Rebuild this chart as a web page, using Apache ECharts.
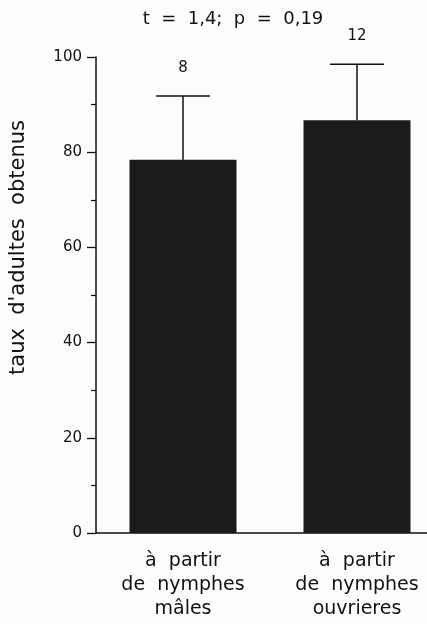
<!DOCTYPE html>
<html><head><meta charset="utf-8">
<script src="https://cdn.jsdelivr.net/npm/echarts@6/dist/echarts.min.js"></script>
<style>html,body{margin:0;padding:0;background:#fdfdfd}#c{width:427px;height:624px}</style>
</head><body><div id="c"></div>
<script>
const categories = ['à  partir\nde  nymphes\nmâles', 'à  partir\nde  nymphes\nouvrieres'];
const means = [78.4, 86.7];
const upper = [91.8, 98.5];
const nValues = ['8', '12'];
const yTicks = {min: 0, max: 100, interval: 20};
const titleText = 't  =  1,4;  p  =  0,19';
const yName = 'taux  d\'adultes  obtenus';

const FONT = 'DejaVu Sans';
const chart = echarts.init(document.getElementById('c'), null, {renderer: 'canvas'});
chart.setOption({
  backgroundColor: '#fdfdfd',
  animation: false,
  title: {text: titleText, left: 228, top: 5, textAlign: 'center',
    textStyle: {fontFamily: FONT, fontSize: 18, fontWeight: 'normal', color: '#111'}},
  grid: {left: 96, top: 57, bottom: 91, right: -17, outerBoundsMode: 'none', containLabel: false},
  xAxis: {type: 'category', data: categories,
    axisLine: {lineStyle: {color: '#111', width: 1.5}},
    axisTick: {show: false},
    axisLabel: {fontFamily: FONT, fontSize: 19, color: '#111', margin: 16, lineHeight: 24, interval: 0}},
  yAxis: {type: 'value', min: yTicks.min, max: yTicks.max, interval: yTicks.interval,
    axisLine: {show: true, lineStyle: {color: '#111', width: 1.5}},
    axisTick: {show: true, length: 9, lineStyle: {color: '#111', width: 1.3}},
    minorTick: {show: true, splitNumber: 2, length: 5, lineStyle: {color: '#111', width: 1.2}},
    splitLine: {show: false},
    axisLabel: {fontFamily: FONT, fontSize: 15, color: '#111', margin: 14}},
  graphic: [{type: 'text', left: 8, top: 120, rotation: Math.PI / 2,
    style: {text: yName, font: '21px "DejaVu Sans"', fill: '#111'}}],
  series: [
    {type: 'bar', data: means, barWidth: 107, itemStyle: {color: '#1b1b1b'}, z: 2},
    {type: 'custom', z: 3,
      data: means.map((m, i) => [i, m, upper[i], nValues[i]]),
      renderItem: function (params, api) {
        const i = api.value(0);
        const p0 = api.coord([i, api.value(1)]);
        const p1 = api.coord([i, api.value(2)]);
        const hw = 27;
        return {type: 'group', children: [
          {type: 'line', shape: {x1: p0[0], y1: p0[1], x2: p1[0], y2: p1[1]}, style: {stroke: '#111', lineWidth: 1.5}},
          {type: 'line', shape: {x1: p1[0] - hw, y1: p1[1], x2: p1[0] + hw, y2: p1[1]}, style: {stroke: '#111', lineWidth: 1.5}},
          {type: 'text', x: p1[0], y: p1[1] - 28, style: {text: String(nValues[i]), font: '15px "DejaVu Sans"', fill: '#111', align: 'center', verticalAlign: 'middle'}}
        ]};
      }}
  ]
});
</script></body></html>
